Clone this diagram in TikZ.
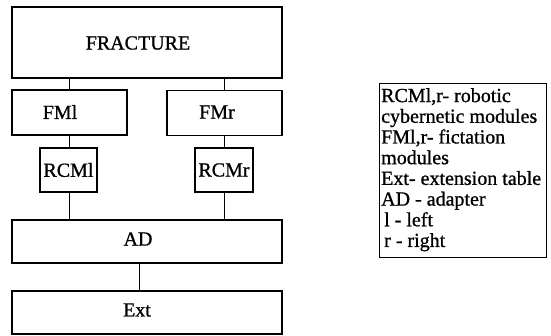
\documentclass[tikz,border=0pt]{standalone}
\usepackage{fontspec}
\setmainfont{Liberation Serif}[FakeBold=0.9]
\begin{document}
\begin{tikzpicture}[x=1pt,y=1pt,
  blk/.style={draw=black,line width=1.7pt,inner sep=0pt},
  sblk/.style={draw=black,line width=1.1pt,inner sep=0pt},
  lbl/.style={inner sep=0pt,font=\fontsize{20}{20.7}\selectfont},
  conn/.style={draw=black,line width=0.8pt}]
\useasboundingbox (0,0) rectangle (551,-335);
% boxes
\node[blk,minimum width=270,minimum height=71] (frac) at (147,-42.5) {};
\node[blk,minimum width=115,minimum height=45] (fml) at (69.5,-112.5) {};
\node[blk,minimum width=115,minimum height=45] (fmr) at (224.5,-113) {};
\node[sblk,minimum width=57,minimum height=44] (rcml) at (68.5,-170) {};
\node[sblk,minimum width=58,minimum height=44] (rcmr) at (224,-170) {};
\node[blk,minimum width=270,minimum height=43] (ad) at (147,-241.5) {};
\node[blk,minimum width=270,minimum height=43] (ext) at (147,-312.5) {};
% texts
\node[lbl] (tfrac) at (138,-43) {FRACTURE};
\node[lbl] (tfml) at (60,-112) {FMl};
\node[lbl] (tfmr) at (217,-112) {FMr};
\node[lbl] (trcml) at (68.5,-170) {RCMl};
\node[lbl] (trcmr) at (224,-170) {RCMr};
\node[lbl] (tad) at (138,-239) {AD};
\node[lbl] (text) at (137,-310) {Ext};
% connectors
\draw[conn] (frac.south -| 69,0) -- (fml.north -| 69,0);
\draw[conn] (frac.south -| 224,0) -- (fmr.north -| 224,0);
\draw[conn] (fml.south -| 69,0) -- (rcml.north -| 69,0);
\draw[conn] (fmr.south -| 224,0) -- (rcmr.north -| 224,0);
\draw[conn] (rcml.south -| 69,0) -- (ad.north -| 69,0);
\draw[conn] (rcmr.south -| 224,0) -- (ad.north -| 224,0);
\draw[conn] (ad.south -| 139,0) -- (ext.north -| 139,0);
% legend
\node[draw=black,line width=0.9pt,minimum width=167,minimum height=174,inner sep=0pt] (leg) at (462.5,-170) {};
\node[lbl,anchor=north west,align=left] (legt) at (381,-88) {RCMl,r- robotic\\cybernetic modules\\FMl,r- fictation\\modules\\Ext- extension table\\AD - adapter\\\hspace*{3pt}l - left\\\hspace*{3pt}r - right};
\end{tikzpicture}
\end{document}
